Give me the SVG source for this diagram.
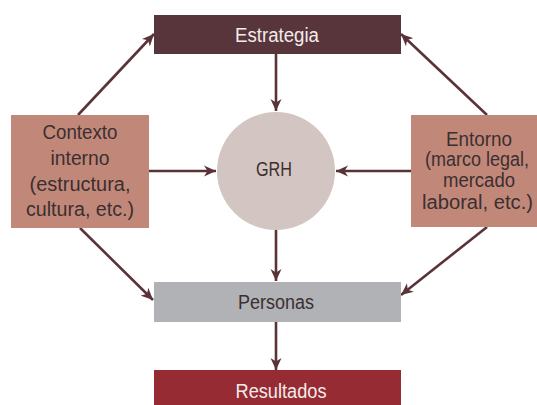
<svg xmlns="http://www.w3.org/2000/svg" width="537" height="405" viewBox="0 0 537 405">
<style>
text{font-family:"Liberation Sans",Arial,sans-serif;font-size:20px;text-anchor:middle}
.dark{fill:#3b2f30}
.light{fill:#f3ecec}
.ln{stroke:#5a3338;stroke-width:2.6;fill:none;marker-end:url(#ah)}
</style>
<defs>
<marker id="ah" markerUnits="userSpaceOnUse" markerWidth="14" markerHeight="12" refX="12" refY="6" orient="auto">
<path d="M0,0.5 L12,6 L0,11.5 L3.5,6 z" fill="#5a3338"/>
</marker>
</defs>
<g id="connectors">
<line class="ln" x1="276" y1="54" x2="276" y2="111"/>
<line class="ln" x1="276" y1="230" x2="276" y2="281"/>
<line class="ln" x1="276" y1="322" x2="276" y2="370"/>
<line class="ln" x1="149" y1="171" x2="216" y2="171"/>
<line class="ln" x1="411" y1="171" x2="336" y2="171"/>
<line class="ln" x1="78" y1="115" x2="154" y2="34"/>
<line class="ln" x1="487" y1="115" x2="401" y2="34"/>
<line class="ln" x1="80" y1="228" x2="153" y2="300"/>
<line class="ln" x1="487" y1="227" x2="401" y2="295"/>
</g>
<g id="estrategia">
<rect x="154" y="15" width="247" height="39" fill="#58353a"/>
<text class="light" x="277" y="42" textLength="84" lengthAdjust="spacingAndGlyphs">Estrategia</text>
</g>
<g id="contexto">
<rect x="11" y="115" width="138" height="113" fill="#c1887a"/>
<text class="dark" x="80" y="139" textLength="75" lengthAdjust="spacingAndGlyphs">Contexto</text>
<text class="dark" x="80" y="165" textLength="59" lengthAdjust="spacingAndGlyphs">interno</text>
<text class="dark" x="80" y="191" textLength="101" lengthAdjust="spacingAndGlyphs">(estructura,</text>
<text class="dark" x="80" y="216" textLength="108" lengthAdjust="spacingAndGlyphs">cultura, etc.)</text>
</g>
<g id="entorno">
<rect x="411" y="115" width="126" height="112" fill="#c1887a"/>
<text class="dark" x="479" y="146" textLength="66" lengthAdjust="spacingAndGlyphs">Entorno</text>
<text class="dark" x="477" y="166" textLength="104" lengthAdjust="spacingAndGlyphs">(marco legal,</text>
<text class="dark" x="479" y="187" textLength="72" lengthAdjust="spacingAndGlyphs">mercado</text>
<text class="dark" x="477.5" y="209" textLength="111" lengthAdjust="spacingAndGlyphs">laboral, etc.)</text>
</g>
<g id="grh">
<circle cx="276" cy="171" r="59" fill="#d3c5c1"/>
<text class="dark" x="274" y="176" textLength="36" lengthAdjust="spacingAndGlyphs">GRH</text>
</g>
<g id="personas">
<rect x="154" y="282" width="247" height="40" fill="#b1b2b5"/>
<text class="dark" x="276" y="309" textLength="76" lengthAdjust="spacingAndGlyphs">Personas</text>
</g>
<g id="resultados">
<rect x="154" y="370" width="247" height="35" fill="#962b33"/>
<text class="light" x="281" y="398" textLength="91" lengthAdjust="spacingAndGlyphs">Resultados</text>
</g>
</svg>
